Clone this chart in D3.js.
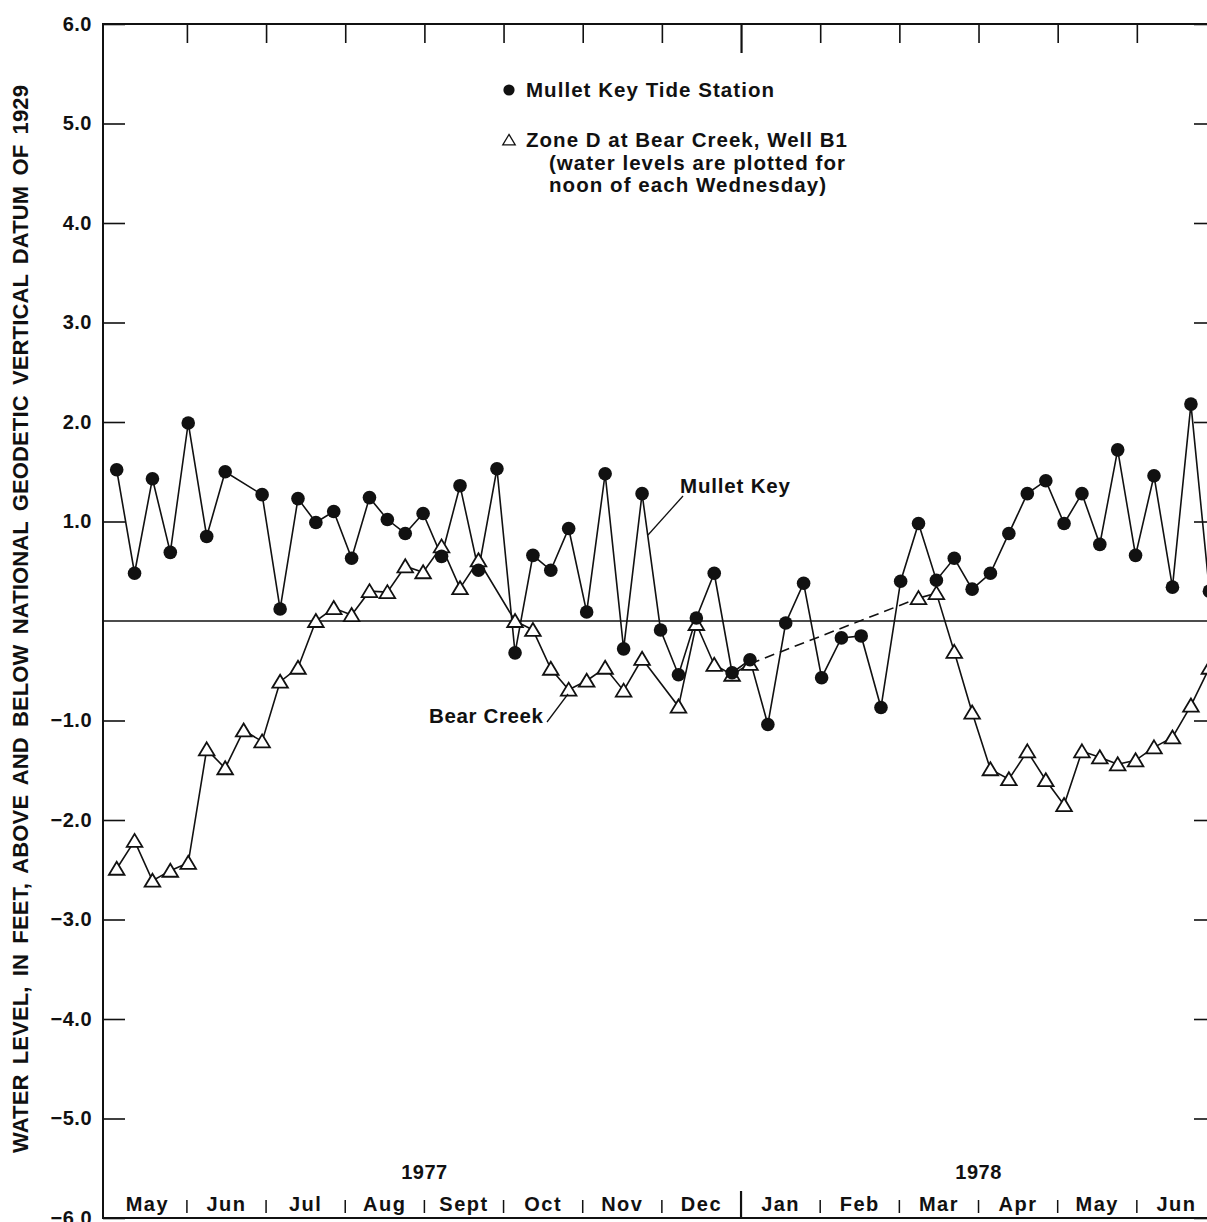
<!DOCTYPE html>
<html>
<head>
<meta charset="utf-8">
<script src="https://cdn.jsdelivr.net/npm/d3@7"></script>
<style>
  body { margin: 0; background: #fff; }
  text { font-family: "Liberation Sans", Arial, sans-serif; fill: #111; font-weight: bold; }
</style>
</head>
<body>
<svg id="chart" width="1207" height="1222"></svg>
<script>
// month names along the bottom, May 1977 to Jun 1978
var monthLabels = ["May","Jun","Jul","Aug","Sept","Oct","Nov","Dec","Jan","Feb","Mar","Apr","May","Jun"];
// year labels sit on a month boundary (months counted from May 1977)
var yearLabels = ["1977","1978"];
var yearAt = [4, 11];

var yTicks = [6,5,4,3,2,1,-1,-2,-3,-4,-5,-6];

// Mullet Key tide station, noon of each Wednesday (ft)
var mulletDates = ["1977-05-04","1977-05-11","1977-05-18","1977-05-25","1977-06-01","1977-06-08","1977-06-15","1977-06-29",
  "1977-07-06","1977-07-13","1977-07-20","1977-07-27","1977-08-03","1977-08-10","1977-08-17","1977-08-24","1977-08-31",
  "1977-09-07","1977-09-14","1977-09-21","1977-09-28","1977-10-05","1977-10-12","1977-10-19","1977-10-26",
  "1977-11-02","1977-11-09","1977-11-16","1977-11-23","1977-11-30","1977-12-07","1977-12-14","1977-12-21","1977-12-28",
  "1978-01-04","1978-01-11","1978-01-18","1978-01-25","1978-02-01","1978-02-08","1978-02-15","1978-02-22",
  "1978-03-01","1978-03-08","1978-03-15","1978-03-22","1978-03-29","1978-04-05","1978-04-12","1978-04-19","1978-04-26",
  "1978-05-03","1978-05-10","1978-05-17","1978-05-24","1978-05-31","1978-06-07","1978-06-14","1978-06-21","1978-06-28"];
var mulletLevels = [1.52,0.48,1.43,0.69,1.99,0.85,1.50,1.27,
  0.12,1.23,0.99,1.10,0.63,1.24,1.02,0.88,1.08,
  0.65,1.36,0.51,1.53,-0.32,0.66,0.51,0.93,
  0.09,1.48,-0.28,1.28,-0.09,-0.54,0.03,0.48,-0.52,
  -0.39,-1.04,-0.02,0.38,-0.57,-0.17,-0.15,-0.87,
  0.40,0.98,0.41,0.63,0.32,0.48,0.88,1.28,1.41,
  0.98,1.28,0.77,1.72,0.66,1.46,0.34,2.18,0.30];

// Zone D at Bear Creek, well B1 (ft)
var bearDates = ["1977-05-04","1977-05-11","1977-05-18","1977-05-25","1977-06-01","1977-06-08","1977-06-15","1977-06-22","1977-06-29",
  "1977-07-06","1977-07-13","1977-07-20","1977-07-27","1977-08-03","1977-08-10","1977-08-17","1977-08-24","1977-08-31",
  "1977-09-07","1977-09-14","1977-09-21","1977-10-05","1977-10-12","1977-10-19","1977-10-26",
  "1977-11-02","1977-11-09","1977-11-16","1977-11-23","1977-12-07","1977-12-14","1977-12-21","1977-12-28",
  "1978-01-04","1978-03-08","1978-03-15","1978-03-22","1978-03-29","1978-04-05","1978-04-12","1978-04-19","1978-04-26",
  "1978-05-03","1978-05-10","1978-05-17","1978-05-24","1978-05-31","1978-06-07","1978-06-14","1978-06-21","1978-06-28"];
var bearLevels = [-2.49,-2.21,-2.61,-2.51,-2.43,-1.29,-1.48,-1.10,-1.21,
  -0.61,-0.47,0.00,0.13,0.06,0.30,0.29,0.55,0.49,
  0.75,0.33,0.61,0.00,-0.09,-0.48,-0.69,
  -0.60,-0.47,-0.70,-0.38,-0.86,-0.03,-0.44,-0.54,
  -0.43,0.23,0.28,-0.31,-0.92,-1.49,-1.59,-1.31,-1.60,
  -1.85,-1.31,-1.37,-1.44,-1.40,-1.27,-1.17,-0.85,-0.47];

var parse = d3.timeParse("%Y-%m-%d");

// months are drawn the same width, so turn a date into months since May 1 1977 (noon)
function monthPos(s) {
  var d = parse(s);
  var m = (d.getFullYear() - 1977) * 12 + d.getMonth() - 4;
  var days = new Date(d.getFullYear(), d.getMonth() + 1, 0).getDate();
  return m + (d.getDate() - 0.5) / days;
}

var mullet = mulletDates.map(function(s, i) { return {m: monthPos(s), v: mulletLevels[i]}; });
var bear = bearDates.map(function(s, i) { return {m: monthPos(s), v: bearLevels[i]}; });

var svg = d3.select("#chart");

var x = d3.scaleLinear().domain([-0.06, 14]).range([103, 1216]);
var y = d3.scaleLinear().domain([-6, 6]).range([1218, 24]);

var fmt = d3.format(".1f");

// y axis, ticks point inward
var yAxis = svg.append("g")
    .attr("transform", "translate(" + x.range()[0] + ",0)")
    .call(d3.axisLeft(y).tickValues(yTicks).tickSizeInner(-22).tickSizeOuter(0).tickPadding(11).tickFormat(fmt));
yAxis.select(".domain").remove();
yAxis.selectAll("line").attr("stroke", "#111").attr("stroke-width", 1.6);
yAxis.selectAll("text").attr("font-size", 20).attr("fill", "#111")
    .style("font-family", "Liberation Sans, Arial, sans-serif").attr("letter-spacing", 0.5);

var rightAxis = svg.append("g")
    .attr("transform", "translate(" + x.range()[1] + ",0)")
    .call(d3.axisRight(y).tickValues(yTicks).tickSizeInner(-22).tickSizeOuter(0).tickFormat(""));
rightAxis.select(".domain").remove();
rightAxis.selectAll("line").attr("stroke", "#111").attr("stroke-width", 1.6);

// top ticks at the month boundaries, the new year one longer
var topAxis = svg.append("g")
    .attr("transform", "translate(0," + y(6) + ")")
    .call(d3.axisTop(x).tickValues(d3.range(1, 14)).tickSizeInner(-19).tickSizeOuter(0).tickFormat(""));
topAxis.select(".domain").remove();
topAxis.selectAll("line").attr("stroke", "#111").attr("stroke-width", 1.6)
    .filter(function(d) { return d === 8; }).attr("y2", 29).attr("stroke-width", 2.2);

// month separators on the bottom
var bottom = svg.append("g")
    .attr("transform", "translate(0," + y(-6) + ")");
bottom.selectAll("line.sep")
    .data(d3.range(1, 14))
    .enter().append("line")
    .attr("class", "sep")
    .attr("x1", function(d) { return x(d); })
    .attr("x2", function(d) { return x(d); })
    .attr("y1", function(d) { return d === 8 ? -27 : -18; })
    .attr("y2", function(d) { return d === 8 ? 0 : -5; })
    .attr("stroke", "#111")
    .attr("stroke-width", function(d) { return d === 8 ? 2.2 : 1.5; });

bottom.selectAll("text.month")
    .data(monthLabels)
    .enter().append("text")
    .attr("class", "month")
    .attr("x", function(d, i) { return x(i + 0.5); })
    .attr("y", -7)
    .attr("text-anchor", "middle")
    .attr("font-size", 20)
    .attr("letter-spacing", 1.5)
    .text(function(d) { return d; });

svg.selectAll("text.year")
    .data(yearLabels)
    .enter().append("text")
    .attr("class", "year")
    .attr("x", function(d, i) { return x(yearAt[i]); })
    .attr("y", 1179)
    .attr("text-anchor", "middle")
    .attr("font-size", 20)
    .attr("letter-spacing", 0.5)
    .text(function(d) { return d; });

// frame
svg.append("rect")
    .attr("x", x.range()[0]).attr("y", y(6))
    .attr("width", x.range()[1] - x.range()[0]).attr("height", y(-6) - y(6))
    .attr("fill", "none").attr("stroke", "#111").attr("stroke-width", 2);

// datum line
svg.append("line")
    .attr("x1", x.range()[0]).attr("x2", x.range()[1])
    .attr("y1", y(0)).attr("y2", y(0))
    .attr("stroke", "#111").attr("stroke-width", 1.6);

// y title
svg.append("text")
    .attr("transform", "translate(28," + 619 + ") rotate(-90)")
    .attr("text-anchor", "middle")
    .attr("font-size", 22)
    .attr("word-spacing", 4)
    .attr("textLength", 1068)
    .attr("lengthAdjust", "spacing")
    .text("WATER LEVEL, IN FEET, ABOVE AND BELOW NATIONAL GEODETIC VERTICAL DATUM OF 1929");

var line = d3.line()
    .x(function(d) { return x(d.m); })
    .y(function(d) { return y(d.v); });

svg.append("path")
    .datum(mullet)
    .attr("d", line)
    .attr("fill", "none").attr("stroke", "#111").attr("stroke-width", 1.6);

// bear creek: solid where weekly, dashed across the missing record
var gap = 0;
bear.forEach(function(d, i) { if (i > 0 && d.m - bear[i - 1].m > 1) gap = i; });
[bear.slice(0, gap), bear.slice(gap)].forEach(function(seg) {
  svg.append("path")
      .datum(seg)
      .attr("d", line)
      .attr("fill", "none").attr("stroke", "#111").attr("stroke-width", 1.6);
});
svg.append("path")
    .datum([bear[gap - 1], bear[gap]])
    .attr("d", line)
    .attr("fill", "none").attr("stroke", "#111").attr("stroke-width", 1.6)
    .attr("stroke-dasharray", "10,6");

var triPath = "M0,-7L7.8,6L-7.8,6Z";

svg.selectAll("path.tri")
    .data(bear)
    .enter().append("path")
    .attr("class", "tri")
    .attr("d", triPath)
    .attr("transform", function(d) { return "translate(" + x(d.m) + "," + y(d.v) + ")"; })
    .attr("fill", "#fff").attr("stroke", "#111").attr("stroke-width", 1.8)
    .attr("stroke-linejoin", "miter");

svg.selectAll("circle.dot")
    .data(mullet)
    .enter().append("circle")
    .attr("class", "dot")
    .attr("cx", function(d) { return x(d.m); })
    .attr("cy", function(d) { return y(d.v); })
    .attr("r", 6.8)
    .attr("fill", "#111");

// legend
var legend = svg.append("g");
legend.append("circle").attr("cx", 509).attr("cy", 90).attr("r", 5.6).attr("fill", "#111");
legend.append("path").attr("d", triPath).attr("transform", "translate(509,140) scale(0.8)")
    .attr("fill", "#fff").attr("stroke", "#111").attr("stroke-width", 1.6);
var legendLines = [
  {t: "Mullet Key Tide Station", x: 526, y: 97, w: 248},
  {t: "Zone D at Bear Creek, Well B1", x: 526, y: 147, w: 321},
  {t: "(water levels are plotted for", x: 549, y: 170, w: 296},
  {t: "noon of each Wednesday)", x: 549, y: 192, w: 277}
];
legend.selectAll("text")
    .data(legendLines)
    .enter().append("text")
    .attr("x", function(d) { return d.x; })
    .attr("y", function(d) { return d.y; })
    .attr("font-size", 20.5)
    .attr("textLength", function(d) { return d.w; })
    .attr("lengthAdjust", "spacing")
    .text(function(d) { return d.t; });

// series call-outs
svg.append("text").attr("x", 680).attr("y", 493).attr("font-size", 20.5)
    .attr("textLength", 110).attr("lengthAdjust", "spacing").text("Mullet Key");
svg.append("line").attr("x1", 683).attr("y1", 496).attr("x2", 648).attr("y2", 535)
    .attr("stroke", "#111").attr("stroke-width", 1.3);

svg.append("text").attr("x", 429).attr("y", 723).attr("font-size", 20.5)
    .attr("textLength", 114).attr("lengthAdjust", "spacing").text("Bear Creek");
svg.append("line").attr("x1", 547).attr("y1", 722).attr("x2", 568).attr("y2", 694)
    .attr("stroke", "#111").attr("stroke-width", 1.3);
</script>
</body>
</html>
